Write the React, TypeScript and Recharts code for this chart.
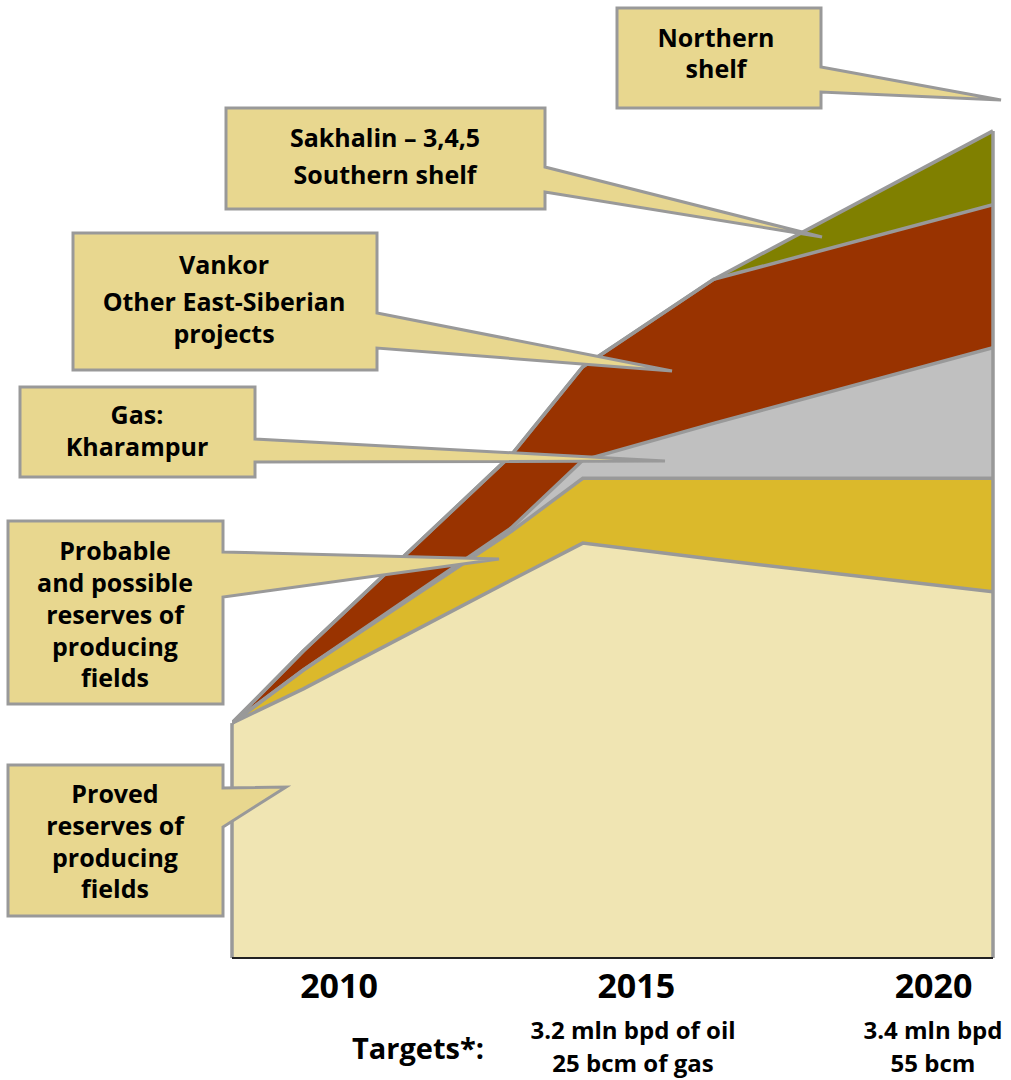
import { AreaChart, Area, XAxis, YAxis, ReferenceLine } from 'recharts'

// x positions of the shape vertices (years)
const years = [2008.2, 2009.4, 2012.9, 2014.1, 2016.3, 2021]
const proved = [26.1, 29.9, 42.0, 46.1, 44.3, 40.7]
const probable = [0, 2.1, 5.4, 7.2, 9.0, 12.6]
const gas = [0, 0, 0.4, 2.0, 6.1, 14.5]
const vankor = [0, 2.1, 8.1, 10.4, 16.0, 15.9]
const sakhalin = [0, 0, 0, 0, 0, 8.2]

const tickYears = [2010, 2015, 2020]

const data = years.map((year, i) => ({
  year,
  proved: proved[i],
  probable: probable[i],
  gas: gas[i],
  vankor: vankor[i],
  sakhalin: sakhalin[i],
}))

const LAYERS = [
  { key: 'proved', fill: '#F0E5B3' },
  { key: 'probable', fill: '#DBB92B' },
  { key: 'gas', fill: '#C0C0C0' },
  { key: 'vankor', fill: '#993300' },
  { key: 'sakhalin', fill: '#808000' },
]

const EDGE = '#999999'
const BOX_FILL = '#E8D78F'
const FONT = '"Open Sans", Lato, sans-serif'

interface Callout {
  box: [number, number, number, number] // x0, y0, x1, y1
  base: [number, number] // y of pointer base on right side
  tip: [number, number]
  cx: number
  lines: string[]
  ys: number[]
}

const callouts: Callout[] = [
  { box: [617, 8, 821, 108], base: [67, 92], tip: [1001, 100], cx: 716, lines: ['Northern', 'shelf'], ys: [37, 68] },
  { box: [226, 108, 545, 209], base: [167, 192], tip: [822, 237], cx: 385, lines: ['Sakhalin – 3,4,5', 'Southern shelf'], ys: [137, 174] },
  { box: [73, 233, 377, 370], base: [313, 348], tip: [672, 371], cx: 224, lines: ['Vankor', 'Other East-Siberian', 'projects'], ys: [264, 301, 333] },
  { box: [20, 387, 255, 477], base: [439, 462], tip: [665, 461], cx: 137, lines: ['Gas:', 'Kharampur'], ys: [414, 446] },
  { box: [8, 521, 223, 704], base: [552, 597], tip: [499, 559], cx: 115, lines: ['Probable', 'and possible', 'reserves of', 'producing', 'fields'], ys: [550, 582, 614, 646, 677] },
  { box: [8, 765, 223, 916], base: [788, 827], tip: [286, 787], cx: 115, lines: ['Proved', 'reserves of', 'producing', 'fields'], ys: [793, 825, 857, 888] },
]

function YearTick(props: any) {
  const { x, y, payload } = props
  return (
    <text x={x} y={y + 40} textAnchor="middle" fontFamily={FONT} fontWeight={700} fontSize={34} fill="#000">
      {payload.value}
    </text>
  )
}

function CalloutShape({ c }: { c: Callout }) {
  const [x0, y0, x1, y1] = c.box
  const pts = [
    [x0, y0], [x1, y0], [x1, c.base[0]], c.tip, [x1, c.base[1]], [x1, y1], [x0, y1],
  ].map((p) => p.join(',')).join(' ')
  return (
    <g>
      <polygon points={pts} fill={BOX_FILL} stroke={EDGE} strokeWidth={3} strokeLinejoin="miter" />
      {c.lines.map((l, i) => (
        <text key={i} x={c.cx} y={c.ys[i]} textAnchor="middle" dominantBaseline="central"
          fontFamily={FONT} fontWeight={700} fontSize={25} fill="#000">
          {l}
        </text>
      ))}
    </g>
  )
}

export default function App() {
  const last = years.length - 1
  const total = proved[last] + probable[last] + gas[last] + vankor[last] + sakhalin[last]
  return (
    <div style={{ position: 'absolute', left: 0, top: 0, width: 1011, height: 1080, background: '#fff' }}>
      <AreaChart width={1011} height={1080} data={data} margin={{ top: 58, right: 18, bottom: 72, left: 232 }}>
        <XAxis
          dataKey="year"
          type="number"
          domain={[2008.2, 2021]}
          ticks={tickYears}
          tick={<YearTick />}
          tickLine={false}
          tickSize={0}
          tickMargin={0}
          height={50}
          axisLine={{ stroke: '#222', strokeWidth: 2 }}
          allowDataOverflow
        />
        <YAxis hide domain={[0, 100]} allowDataOverflow />
        {LAYERS.map((l) => (
          <Area
            key={l.key}
            type="linear"
            dataKey={l.key}
            stackId="fill"
            fill={l.fill}
            fillOpacity={1}
            stroke="none"
            dot={false}
            activeDot={false}
            isAnimationActive={false}
          />
        ))}
        {/* outlines drawn on top so neighbouring fills do not hide half the edge */}
        {LAYERS.map((l) => (
          <Area
            key={l.key + '-edge'}
            type="linear"
            dataKey={l.key}
            stackId="edge"
            fill="none"
            stroke={EDGE}
            strokeWidth={3.5}
            dot={false}
            activeDot={false}
            isAnimationActive={false}
          />
        ))}
        <ReferenceLine
          segment={[{ x: years[0], y: 0 }, { x: years[0], y: proved[0] }]}
          stroke={EDGE}
          strokeWidth={3.5}
          ifOverflow="visible"
        />
        <ReferenceLine
          segment={[{ x: years[last], y: 0 }, { x: years[last], y: total }]}
          stroke={EDGE}
          strokeWidth={3.5}
          ifOverflow="visible"
        />
      </AreaChart>
      <svg width={1011} height={1080} style={{ position: 'absolute', left: 0, top: 0, pointerEvents: 'none' }}>
        {callouts.map((c, i) => <CalloutShape key={i} c={c} />)}
        <g fontFamily={FONT} fontWeight={700} fill="#000" textAnchor="middle">
          <text x={418} y={1047} fontSize={29} dominantBaseline="central">Targets*:</text>
          <text x={633} y={1029} fontSize={24} dominantBaseline="central">3.2 mln bpd of oil</text>
          <text x={633} y={1062} fontSize={24} dominantBaseline="central">25 bcm of gas</text>
          <text x={933} y={1029} fontSize={24} dominantBaseline="central">3.4 mln bpd</text>
          <text x={933} y={1062} fontSize={24} dominantBaseline="central">55 bcm</text>
        </g>
      </svg>
    </div>
  )
}
